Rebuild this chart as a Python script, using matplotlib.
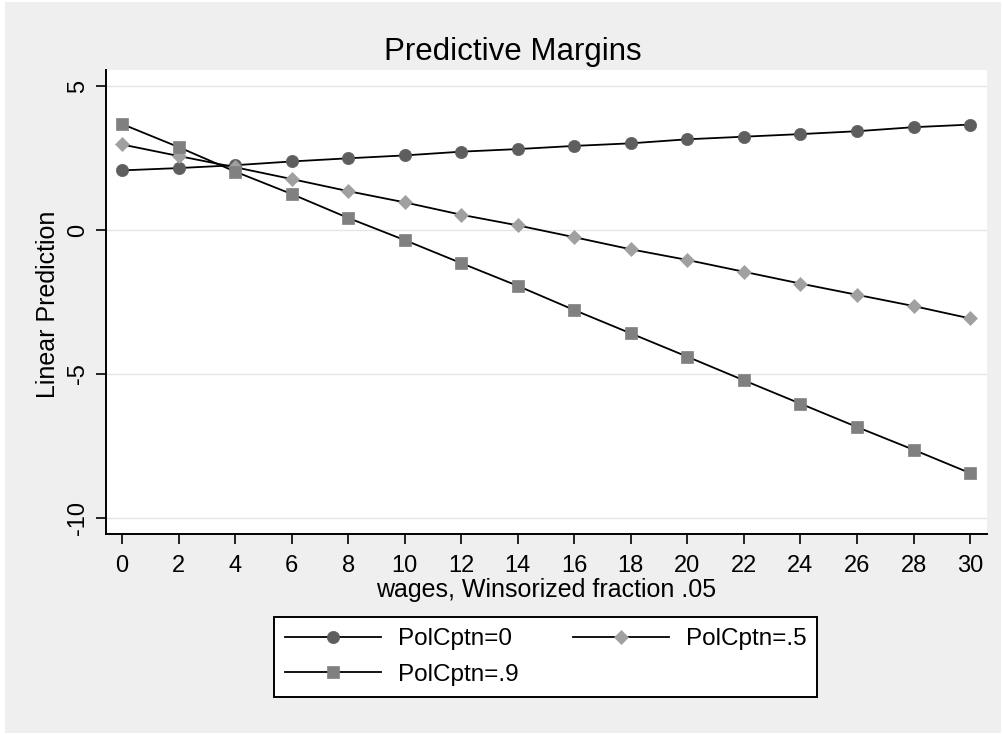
import matplotlib
matplotlib.use("Agg")
import matplotlib.pyplot as plt
from matplotlib.patches import Rectangle

plt.rcParams['font.family'] = ['Liberation Sans', 'DejaVu Sans']
plt.rcParams['axes.unicode_minus'] = False

wages = [0, 2, 4, 6, 8, 10, 12, 14, 16, 18, 20, 22, 24, 26, 28, 30]
pol_0 = [2.07, 2.15, 2.25, 2.38, 2.49, 2.59, 2.72, 2.81, 2.92, 3.01,
         3.15, 3.24, 3.33, 3.43, 3.57, 3.66]
pol_5 = [2.97, 2.57, 2.18, 1.77, 1.35, 0.96, 0.53, 0.16, -0.25, -0.67,
         -1.04, -1.45, -1.86, -2.25, -2.64, -3.07]
pol_9 = [3.68, 2.88, 2.03, 1.25, 0.42, -0.35, -1.15, -1.94, -2.78, -3.59,
         -4.40, -5.22, -6.03, -6.84, -7.63, -8.44]
labels = ['PolCptn=0', 'PolCptn=.5', 'PolCptn=.9']
xticks = list(range(0, 31, 2))
yticks = [-10, -5, 0, 5]

W, H = 1003, 734
fig = plt.figure(figsize=(W / 100, H / 100), dpi=100)
fig.patch.set_facecolor('white')
# stata-like outer gray region
fig.add_artist(Rectangle((5 / W, 1 - 733 / H), 996 / W, 731 / H,
                         transform=fig.transFigure, facecolor='#EFEFEF',
                         edgecolor='none', zorder=0))

ax = fig.add_axes([106 / W, 1 - 534 / H, 881 / W, 464 / H])
ax.set_facecolor('white')
ax.set_zorder(1)

h0, = ax.plot(wages, pol_0, color='black', lw=1.3, marker='o', ms=8.8,
              mfc='#5E5E5E', mec='#5E5E5E', mew=0.5, label=labels[0])
h5, = ax.plot(wages, pol_5, color='black', lw=1.3, marker='D', ms=7.6,
              mfc='#A0A0A0', mec='#A0A0A0', mew=0.5, label=labels[1])
h9, = ax.plot(wages, pol_9, color='black', lw=1.3, marker='s', ms=8.8,
              mfc='#808080', mec='#808080', mew=0.5, label=labels[2])

ax.set_xlim(-0.566, 30.6)
ax.set_ylim(-10.556, 5.556)
ax.set_xticks(xticks)
ax.set_yticks(yticks)
ax.grid(axis='y', color='#E6E6E6', lw=1.0)
ax.set_axisbelow(True)

for s in ['top', 'right']:
    ax.spines[s].set_visible(False)
for s in ['left', 'bottom']:
    ax.spines[s].set_linewidth(1.4)
ax.tick_params(axis='both', direction='out', length=7.5, width=1.2,
               labelsize=17, color='black')
ax.tick_params(axis='x', pad=7.5)
ax.tick_params(axis='y', pad=4.5)
for t in ax.get_yticklabels():
    t.set_rotation(90)
    t.set_va('center')

ax.set_xlabel('wages, Winsorized fraction .05', fontsize=18, va='baseline')
ax.xaxis.set_label_coords(0.5, (534 - 597) / 464)
ax.set_ylabel('Linear Prediction', fontsize=18, va='center')
ax.yaxis.set_label_coords((48.5 - 106) / 881, 0.495)

fig.text(513 / W, 1 - 60 / H, 'Predictive Margins', fontsize=22.5,
         ha='center', va='baseline')

# column-major fill: (0, .9) in col 1, .5 in col 2
leg = fig.legend([h0, h9, h5], [labels[0], labels[2], labels[1]],
                 loc='center', ncol=2,
                 bbox_to_anchor=(545.5 / W, 1 - 657 / H),
                 bbox_transform=fig.transFigure, fontsize=17.5,
                 handlelength=3.95, handletextpad=0.7, columnspacing=2.25,
                 labelspacing=0.55, borderpad=0.45, borderaxespad=0,
                 numpoints=1, fancybox=False, framealpha=1,
                 edgecolor='black')
leg.get_frame().set_linewidth(1.4)

fig.savefig('out.png', dpi=100, facecolor=fig.get_facecolor())
